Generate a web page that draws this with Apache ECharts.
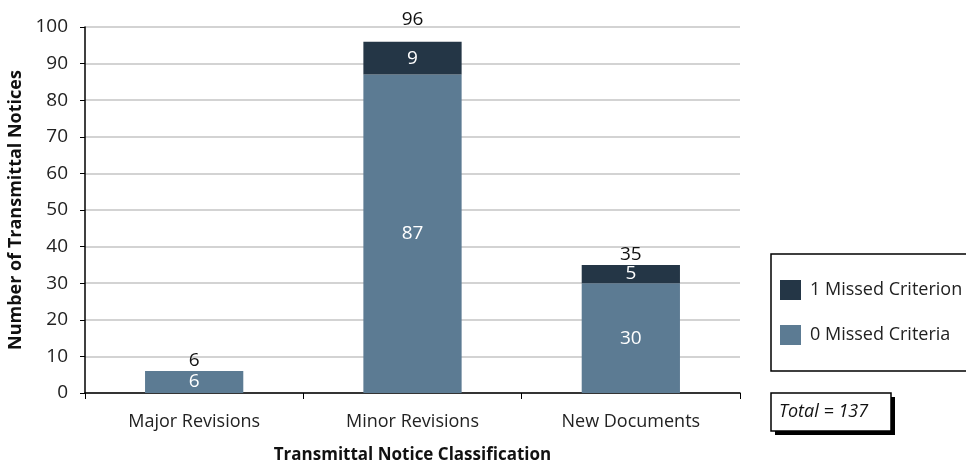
<!DOCTYPE html>
<html>
<head>
<meta charset="utf-8">
<script src="https://cdn.jsdelivr.net/npm/echarts@6/dist/echarts.min.js"></script>
<style>
html, body { margin: 0; padding: 0; background: #fff; }
#main { width: 966px; height: 464px; }
</style>
</head>
<body>
<div id="main"></div>
<script>
var categories = ['Major Revisions', 'Minor Revisions', 'New Documents'];
var zeroMissed = [6, 87, 30];
var oneMissed = [0, 9, 5];
var totals = [6, 96, 35];
var yTicks = { min: 0, max: 100, interval: 10 };
var totalText = 'Total = 137';

var font = '"Open Sans", "Noto Sans", sans-serif';
var myChart = echarts.init(document.getElementById('main'));

// the label over the tallest bar sits a little higher, above the top gridline
var totalData = totals.map(function (v, i) {
    return i === 1 ? { value: v, label: { offset: [0, -12] } } : v;
});

var option = {
    backgroundColor: '#fff',
    animation: false,
    textStyle: { fontFamily: font },
    grid: { left: 85, right: 226, top: 27, bottom: 71, outerBoundsMode: 'none' },
    legend: {
        data: ['1 Missed Criterion', '0 Missed Criteria'],
        orient: 'vertical',
        left: 780, top: 280,
        icon: 'rect',
        itemWidth: 21, itemHeight: 20,
        itemGap: 25,
        padding: 0,
        textStyle: { fontSize: 18, lineHeight: 20, color: '#222', fontFamily: font, padding: [0, 0, 0, 4] },
        selectedMode: false
    },
    xAxis: {
        type: 'category',
        data: categories,
        name: 'Transmittal Notice Classification',
        nameLocation: 'middle',
        nameGap: 54,
        nameTextStyle: { fontSize: 17, fontWeight: 'bold', color: '#111' },
        axisLine: { lineStyle: { color: '#000', width: 1.5 } },
        axisTick: { show: true, length: 6, lineStyle: { color: '#000' } },
        axisLabel: { fontSize: 18, color: '#222', margin: 20 }
    },
    yAxis: {
        type: 'value',
        min: yTicks.min, max: yTicks.max, interval: yTicks.interval,
        name: 'Number of Transmittal Notices',
        nameLocation: 'middle',
        nameGap: 58,
        nameTextStyle: { fontSize: 18, fontWeight: 'bold', color: '#111' },
        axisLine: { show: true, lineStyle: { color: '#000', width: 1.5 } },
        axisTick: { show: true, length: 5, lineStyle: { color: '#000' } },
        axisLabel: { fontSize: 19, color: '#222', margin: 17 },
        splitLine: { lineStyle: { color: '#c4c4c4', width: 1.5 } }
    },
    series: [
        {
            name: '0 Missed Criteria',
            type: 'bar',
            stack: 'a',
            barWidth: '45%',
            data: zeroMissed,
            itemStyle: { color: '#5c7b93' },
            label: { show: true, position: 'inside', color: '#fff', fontSize: 19 }
        },
        {
            name: '1 Missed Criterion',
            type: 'bar',
            stack: 'a',
            barWidth: '45%',
            data: oneMissed,
            itemStyle: { color: '#243646' },
            label: {
                show: true, position: 'inside', color: '#fff', fontSize: 19,
                formatter: function (p) { return p.value ? p.value : ''; }
            }
        },
        {
            name: 'Total',
            type: 'line',
            data: totalData,
            symbol: 'circle',
            symbolSize: 1,
            itemStyle: { opacity: 0 },
            lineStyle: { opacity: 0 },
            silent: true,
            z: 10,
            label: { show: true, position: 'top', distance: 0, color: '#111', fontSize: 19, opacity: 1 }
        }
    ],
    graphic: [
        {
            type: 'rect',
            shape: { x: 771, y: 254, width: 200, height: 117 },
            style: { fill: 'none', stroke: '#000', lineWidth: 1.5 }
        },
        {
            type: 'rect',
            shape: { x: 775, y: 397, width: 120, height: 38 },
            style: { fill: '#000' }
        },
        {
            type: 'rect',
            shape: { x: 771, y: 393, width: 120, height: 38 },
            style: { fill: '#fff', stroke: '#000', lineWidth: 1.5 }
        },
        {
            type: 'text',
            x: 779, y: 412,
            style: {
                text: totalText, fill: '#111', fontSize: 18, fontStyle: 'italic',
                fontFamily: font, verticalAlign: 'middle'
            }
        }
    ]
};

myChart.setOption(option);
</script>
</body>
</html>
